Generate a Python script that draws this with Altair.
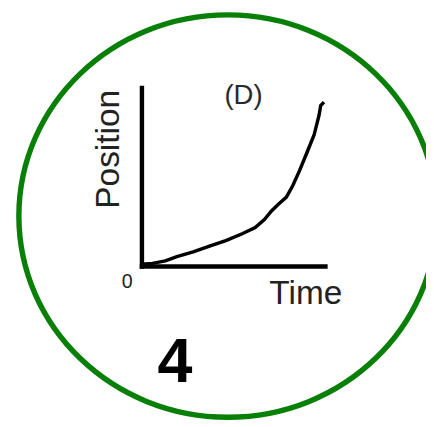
import altair as alt
import pandas as pd

# Curve (time, position in axis units 0..10)
time_vals = [0.0, 0.6, 1.3, 1.93, 2.82, 3.71, 4.60, 5.49, 6.20, 6.70, 7.10, 7.45, 7.90, 8.25, 8.61, 9.05, 9.41, 9.68, 9.77, 9.95]
position_vals = [0.1, 0.15, 0.29, 0.53, 0.79, 1.12, 1.43, 1.81, 2.16, 2.60, 3.10, 3.45, 3.86, 4.51, 5.33, 6.43, 7.35, 8.45, 8.99, 9.18]

# Frame (ellipse) centre in axis units
frame_t = [4.71]
frame_p = [2.80]

# Annotations
panel_label = ["(D)"]
panel_label_t = [5.56]
panel_label_p = [9.07]

origin_label = ["0"]
origin_t = [-0.78]
origin_p = [-0.91]

number_label = ["4"]
number_t = [1.82]
number_p = [-6.48]

FONT = "Liberation Sans"

xs = alt.Scale(domain=[0, 10], nice=False, zero=False)
ys = alt.Scale(domain=[0, 10], nice=False, zero=False)

ax_x = alt.Axis(
    title="Time", domain=True, domainColor="black", domainWidth=4.5, domainCap="square",
    ticks=False, labels=False, grid=False,
    titleFont=FONT, titleFontSize=34, titleFontWeight="normal", titleColor="#222",
    titleX=167, titleY=38, titleAlign="center", titleBaseline="alphabetic")
ax_y = alt.Axis(
    title="Position", domain=True, domainColor="black", domainWidth=4.5, domainCap="square",
    ticks=False, labels=False, grid=False,
    titleFont=FONT, titleFontSize=34, titleFontWeight="normal", titleColor="#222",
    titleAngle=270, titleX=-23, titleY=62.5, titleAlign="center", titleBaseline="alphabetic")

curve_df = pd.DataFrame({"t": time_vals, "p": position_vals})
frame_df = pd.DataFrame({"t": frame_t, "p": frame_p})
d_df = pd.DataFrame({"t": panel_label_t, "p": panel_label_p, "txt": panel_label})
o_df = pd.DataFrame({"t": origin_t, "p": origin_p, "txt": origin_label})
n_df = pd.DataFrame({"t": number_t, "p": number_p, "txt": number_label})


def enc_xy():
    return dict(
        x=alt.X("t:Q", scale=xs, axis=ax_x),
        y=alt.Y("p:Q", scale=ys, axis=ax_y),
    )


curve = alt.Chart(curve_df).mark_line(color="black", strokeWidth=3.5, clip=False).encode(
    order=alt.Order("t:Q"), **enc_xy()
)

ellipse_path = "M-1,0A1,0.9624,0,1,1,1,0A1,0.9624,0,1,1,-1,0Z"
frame = alt.Chart(frame_df).mark_point(
    shape=ellipse_path, filled=False, stroke="#088008", strokeWidth=5.5,
    opacity=1, size=181476, clip=False,
).encode(**enc_xy())

d_text = alt.Chart(d_df).mark_text(
    font=FONT, fontSize=28, color="#2a2a2a", align="center", baseline="alphabetic", clip=False
).encode(text="txt:N", **enc_xy())

o_text = alt.Chart(o_df).mark_text(
    font=FONT, fontSize=20, color="#222", align="center", baseline="middle", clip=False
).encode(text="txt:N", **enc_xy())

n_text = alt.Chart(n_df).mark_text(
    font=FONT, fontSize=64, fontWeight="bold", color="black", align="center", baseline="alphabetic", clip=False
).encode(text="txt:N", **enc_xy())

chart = alt.layer(frame, curve, d_text, o_text, n_text).properties(
    width=187, height=182,
    padding={"left": 136, "top": 77, "right": 103, "bottom": 160},
    autosize=alt.AutoSizeParams(type="none"),
    background="white",
).configure_view(stroke=None)

chart.save("out.html", embed_options={"renderer": "svg", "actions": False})
